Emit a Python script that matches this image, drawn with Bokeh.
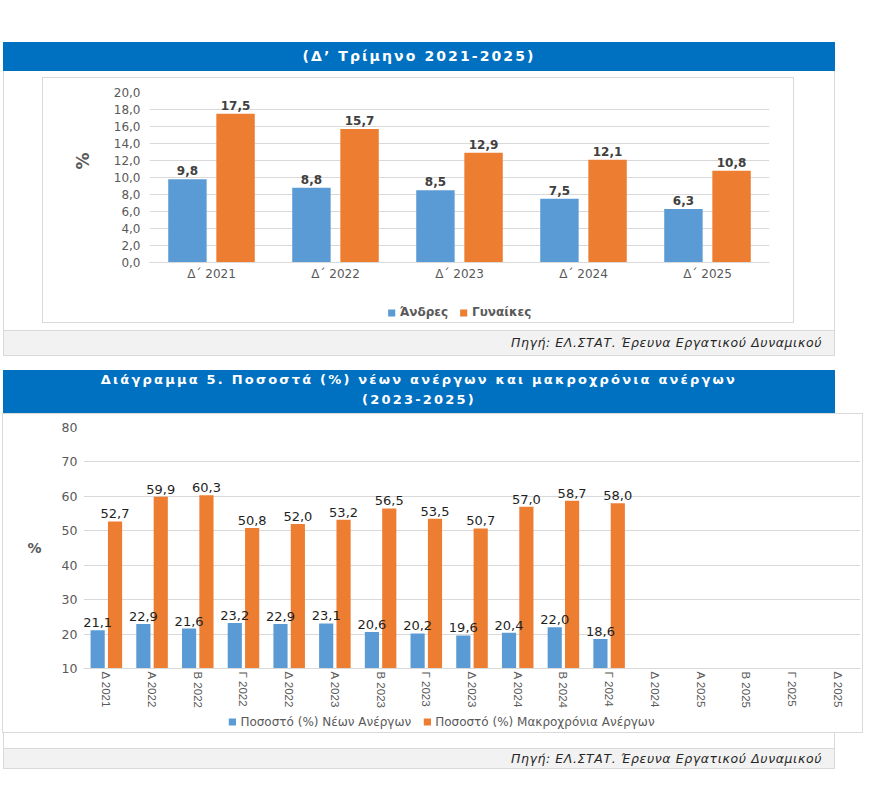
from bokeh.plotting import figure
from bokeh.layouts import column, row
from bokeh.models import (Div, Spacer, Range1d, FactorRange, ColumnDataSource, Legend,
                          LegendItem, FixedTicker, CustomJSTickFormatter, Title)
from bokeh.transform import dodge
from bokeh.core.properties import value
from bokeh.embed import file_html
from bokeh.resources import INLINE

# ---- Unemployment by sex, Q4 of each year ----
q4_labels = ["Δ΄ 2021", "Δ΄ 2022", "Δ΄ 2023", "Δ΄ 2024", "Δ΄ 2025"]
men = [9.8, 8.8, 8.5, 7.5, 6.3]
women = [17.5, 15.7, 12.9, 12.1, 10.8]
sex_ticks = [0, 2, 4, 6, 8, 10, 12, 14, 16, 18, 20]

# ---- Young and long-term unemployed, quarterly ----
quarters = ["Δ 2021", "Α 2022", "Β 2022", "Γ 2022", "Δ 2022", "Α 2023", "Β 2023",
            "Γ 2023", "Δ 2023", "Α 2024", "Β 2024", "Γ 2024", "Δ 2024", "Α 2025",
            "Β 2025", "Γ 2025", "Δ 2025"]
young = [21.1, 22.9, 21.6, 23.2, 22.9, 23.1, 20.6, 20.2, 19.6, 20.4, 22.0, 18.6]
long_term = [52.7, 59.9, 60.3, 50.8, 52.0, 53.2, 56.5, 53.5, 50.7, 57.0, 58.7, 58.0]
pct_ticks = [10, 20, 30, 40, 50, 60, 70, 80]

BLUE = "#5B9BD5"
ORANGE = "#ED7D31"
BAR_BLUE = "#0070C0"
GRID = "#d9d9d9"
AXIS_TXT = "#595959"
FONT = "DejaVu Sans"
NARROW = "Liberation Sans Narrow, Liberation Sans, sans-serif"
BOX = {"box-shadow": "0 0 0 1px #d9d9d9"}


def gr(v):
    return f"{v:.1f}".replace(".", ",")


comma_fmt = CustomJSTickFormatter(code="return tick.toFixed(1).replace('.', ',');")
int_fmt = CustomJSTickFormatter(code="return tick.toFixed(0);")


def style_axes(p, ticks, fmt, xsize, ysize):
    p.outline_line_color = None
    p.xgrid.grid_line_color = None
    p.ygrid.grid_line_color = GRID
    p.ygrid.ticker = FixedTicker(ticks=ticks)
    p.yaxis.ticker = FixedTicker(ticks=ticks)
    p.yaxis.formatter = fmt
    for ax in (p.xaxis[0], p.yaxis[0]):
        ax.major_tick_line_color = None
        ax.minor_tick_line_color = None
        ax.major_tick_in = 0
        ax.major_tick_out = 0
        ax.major_label_text_color = AXIS_TXT
    p.xaxis.axis_line_color = GRID
    p.yaxis.axis_line_color = None
    p.xaxis.major_label_text_font_size = xsize
    p.yaxis.major_label_text_font_size = ysize
    p.yaxis.major_label_text_font = FONT


def legend_strip(width, height, entries, bold):
    """Strip under a chart that holds its legend.

    The swatches come from hidden stand-in bars coloured like each series."""
    q = figure(width=width, height=height, x_range=Range1d(0, 1), y_range=Range1d(0, 1),
               output_backend="svg", toolbar_location=None, min_border=0, title=None,
               x_axis_location=None, y_axis_location=None)
    q.outline_line_color = None
    q.grid.visible = False
    items = []
    for label, color, vals in entries:
        r = q.vbar(x=[0], top=vals[:1], width=0.1, fill_color=color, line_color=None,
                   visible=False)
        items.append(LegendItem(label=label, renderers=[r]))
    q.add_layout(Legend(items=items, orientation="horizontal", location="center",
                        padding=0, margin=0, spacing=11, glyph_width=9, glyph_height=9,
                        label_standoff=4, label_height=14, label_text_font=FONT,
                        label_text_font_size="12px",
                        label_text_font_style="bold" if bold else "normal",
                        label_text_color=AXIS_TXT, border_line_color=None,
                        background_fill_alpha=0, inactive_fill_alpha=0))
    return q


# ================= chart 1: by sex =================
src1 = ColumnDataSource(dict(q=q4_labels, men=men, women=women,
                             men_lbl=[gr(v) for v in men],
                             women_lbl=[gr(v) for v in women]))
p1 = figure(x_range=FactorRange(*q4_labels), y_range=Range1d(0, 20),
            width=750, height=224, output_backend="svg", toolbar_location=None,
            min_border_left=106, min_border_right=24, min_border_top=14,
            min_border_bottom=40)
style_axes(p1, sex_ticks, comma_fmt, "12px", "12px")
p1.xaxis.major_label_text_font = FONT
p1.xaxis.major_label_standoff = 4
p1.yaxis.major_label_standoff = 9
# the "%" unit sits a little above the middle of the value axis
p1.add_layout(Title(text="%", align="right", offset=60, standoff=36,
                    text_font=FONT, text_font_size="17px", text_font_style="bold",
                    text_color=AXIS_TXT), "left")

p1.vbar(x=dodge("q", -0.194, range=p1.x_range), top="men", width=0.31,
        source=src1, fill_color=BLUE, line_color=None)
p1.vbar(x=dodge("q", 0.194, range=p1.x_range), top="women", width=0.31,
        source=src1, fill_color=ORANGE, line_color=None)
for col, lbl, off in (("men", "men_lbl", -0.194), ("women", "women_lbl", 0.194)):
    p1.text(x=dodge("q", off, range=p1.x_range), y=col, text=lbl, source=src1,
            text_align="center", text_baseline="bottom", y_offset=-4,
            text_font=value(FONT), text_font_style="bold", text_font_size="12px",
            text_color="#404040")

leg1 = legend_strip(750, 20, [("Άνδρες", BLUE, men), ("Γυναίκες", ORANGE, women)], True)
box1 = column(p1, leg1, styles=BOX)

# ================= chart 2: young / long-term unemployed =================
n = len(young)
src2 = ColumnDataSource(dict(q=quarters[:n], young=young, long=long_term,
                             young_lbl=[gr(v) for v in young],
                             long_lbl=[gr(v) for v in long_term]))
p2 = figure(x_range=FactorRange(*quarters), y_range=Range1d(10, 80),
            width=859, height=297, output_backend="svg", toolbar_location=None,
            min_border_left=80, min_border_right=2, min_border_top=13,
            min_border_bottom=43)
style_axes(p2, pct_ticks, int_fmt, "11.5px", "12.5px")
p2.xaxis.major_label_text_font = NARROW
p2.xaxis.major_label_orientation = "vertical"
p2.xaxis.major_label_standoff = 3
p2.yaxis.major_label_standoff = 6
p2.yaxis.axis_label = "%"
p2.yaxis.axis_label_text_font = FONT
p2.yaxis.axis_label_text_font_size = "14px"
p2.yaxis.axis_label_text_font_style = "bold"
p2.yaxis.axis_label_text_color = AXIS_TXT
p2.yaxis.axis_label_standoff = 17
if "axis_label_orientation" in p2.yaxis[0].properties():
    p2.yaxis.axis_label_orientation = "horizontal"

p2.vbar(x=dodge("q", -0.19, range=p2.x_range), top="young", bottom=10,
        width=0.31, source=src2, fill_color=BLUE, line_color=None)
p2.vbar(x=dodge("q", 0.19, range=p2.x_range), top="long", bottom=10,
        width=0.31, source=src2, fill_color=ORANGE, line_color=None)
for col, lbl, off in (("young", "young_lbl", -0.19), ("long", "long_lbl", 0.19)):
    p2.text(x=dodge("q", off, range=p2.x_range), y=col, text=lbl, source=src2,
            text_align="center", text_baseline="bottom", y_offset=-3,
            text_font=value(FONT), text_font_size="13px", text_color="#1f1f1f")

leg2 = legend_strip(842, 21, [("Ποσοστό (%) Νέων Ανέργων", BLUE, young),
                              ("Ποσοστό (%) Μακροχρόνια Ανέργων", ORANGE, long_term)], False)
box2 = column(p2, row(Spacer(width=17, height=21), leg2), styles=BOX)

# ================= surrounding panels =================
SIDE_LINES = "inset 1px 0 0 #d9d9d9, inset -1px 0 0 #d9d9d9"


def title_bar(html, h, size, spacing):
    return Div(text=html, width=832, height=h, margin=0,
               styles={"background-color": BAR_BLUE, "color": "white",
                       "font-family": FONT, "font-weight": "bold",
                       "font-size": size, "letter-spacing": spacing,
                       "text-align": "center",
                       "line-height": "20px" if h > 30 else f"{h}px"})


def source_bar(h):
    return Div(text='<div style="padding-right:13px">Πηγή: ΕΛ.ΣΤΑΤ. Έρευνα Εργατικού Δυναμικού</div>',
               width=832, height=h, margin=0,
               styles={"background-color": "#f2f2f2",
                       "box-shadow": "inset 0 0 0 1px #d9d9d9",
                       "font-family": FONT, "font-style": "italic",
                       "font-size": "12.5px", "letter-spacing": "0.6px",
                       "color": "#262626", "text-align": "right",
                       "line-height": f"{h}px"})


def indent(item):
    return row(Spacer(width=3, height=1), item)


title1 = title_bar("(Δ’ Τρίμηνο 2021-2025)", 29, "14px", "2.1px")
top_mid = column(Spacer(width=832, height=7),
                 row(Spacer(width=40, height=244), box1, Spacer(width=42, height=244)),
                 Spacer(width=832, height=8),
                 styles={"box-shadow": SIDE_LINES})

title2 = title_bar("Διάγραμμα 5. Ποσοστά (%) νέων ανέργων και μακροχρόνια ανέργων<br>(2023-2025)",
                   44, "13px", "2.2px")
gap2 = Div(text="", width=832, height=16, margin=0, styles={"box-shadow": SIDE_LINES})

root = column(Spacer(width=880, height=42),
              indent(title1), indent(top_mid), indent(source_bar(26)),
              Spacer(width=880, height=14),
              indent(title2), indent(box2), indent(gap2), indent(source_bar(21)))

open("out.html", "w").write(file_html(root, INLINE))
